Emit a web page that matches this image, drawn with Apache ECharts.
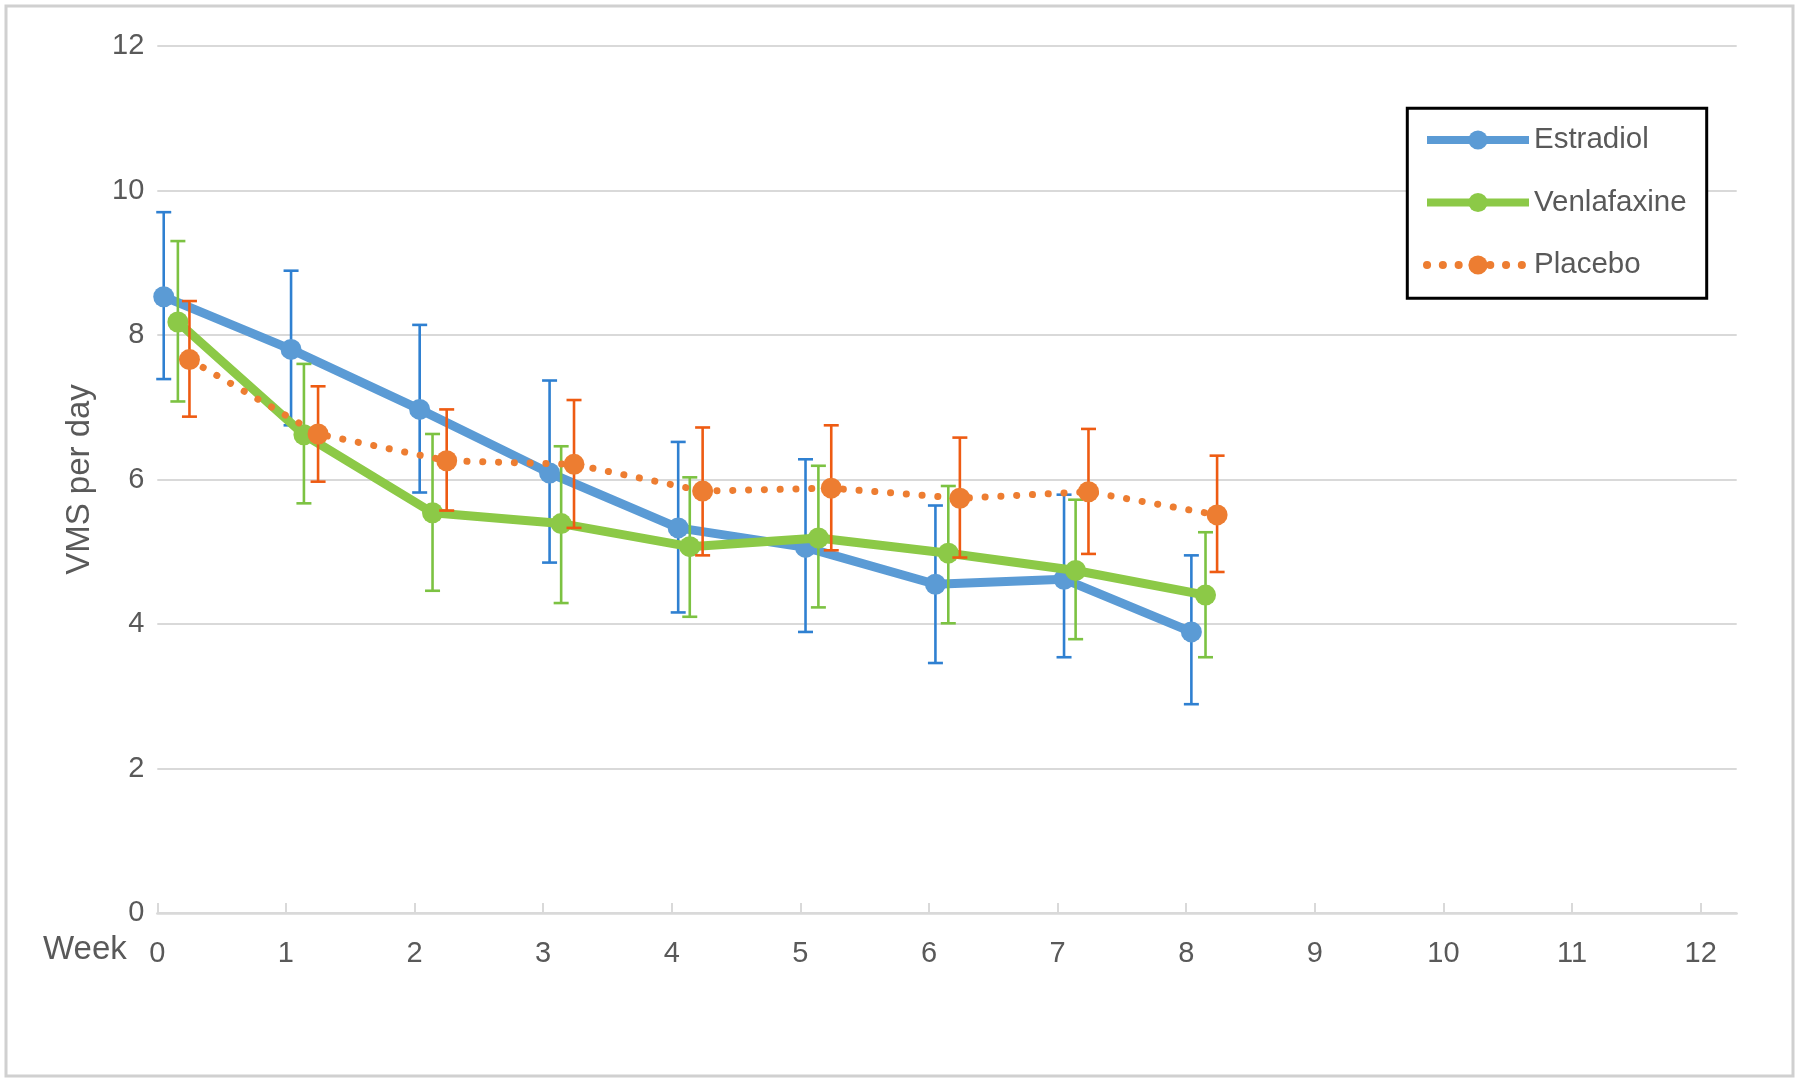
<!DOCTYPE html>
<html>
<head>
<meta charset="utf-8">
<script src="https://cdn.jsdelivr.net/npm/echarts@6/dist/echarts.min.js"></script>
<style>
html,body{margin:0;padding:0;background:#fff;}
#chart{width:1800px;height:1085px;}
</style>
</head>
<body>
<div id="chart"></div>
<script>
// ---- data ----
const xTickLabels = [0,1,2,3,4,5,6,7,8,9,10,11,12];
const yTickValues = [0,2,4,6,8,10,12];

const estradiolX    = [0.05, 1.04, 2.04, 3.05, 4.05, 5.04, 6.05, 7.05, 8.04];
const estradiolMean = [8.53, 7.80, 6.97, 6.09, 5.33, 5.06, 4.55, 4.62, 3.89];
const estradiolLow  = [7.39, 6.75, 5.82, 4.85, 4.16, 3.89, 3.46, 3.54, 2.89];
const estradiolHigh = [9.70, 8.89, 8.14, 7.37, 6.52, 6.28, 5.64, 5.79, 4.95];

const venlafaxineX    = [0.16, 1.14, 2.14, 3.14, 4.14, 5.14, 6.15, 7.14, 8.15];
const venlafaxineMean = [8.18, 6.62, 5.54, 5.39, 5.07, 5.19, 4.98, 4.74, 4.40];
const venlafaxineLow  = [7.08, 5.67, 4.46, 4.29, 4.10, 4.23, 4.01, 3.79, 3.54];
const venlafaxineHigh = [9.30, 7.60, 6.63, 6.46, 6.03, 6.19, 5.91, 5.72, 5.27];

const placeboX    = [0.25, 1.25, 2.25, 3.24, 4.24, 5.24, 6.24, 7.24, 8.24];
const placeboMean = [7.66, 6.63, 6.26, 6.21, 5.84, 5.88, 5.74, 5.83, 5.51];
const placeboLow  = [6.87, 5.97, 5.57, 5.33, 4.95, 5.02, 4.92, 4.97, 4.72];
const placeboHigh = [8.47, 7.29, 6.97, 7.10, 6.72, 6.75, 6.58, 6.70, 6.33];

const seriesNames = ['Estradiol', 'Venlafaxine', 'Placebo'];
// --------------------------------------

const FONT = 'Liberation Sans';
const TXT = '#595959';
const GRID = '#d9d9d9';

function errSeries(name, xs, lo, hi, color, z) {
  return {
    type: 'custom', name: name + ' error', z: z, silent: true,
    data: xs.map((x, i) => [x, lo[i], hi[i]]),
    encode: { x: 0, y: [1, 2] },
    renderItem: function (params, api) {
      const x = api.value(0);
      const pLo = api.coord([x, api.value(1)]);
      const pHi = api.coord([x, api.value(2)]);
      const hw = 7.5;
      const style = { stroke: color, lineWidth: 2.6 };
      return { type: 'group', children: [
        { type: 'line', shape: { x1: pLo[0], y1: pLo[1], x2: pHi[0], y2: pHi[1] }, style: style },
        { type: 'line', shape: { x1: pHi[0] - hw, y1: pHi[1], x2: pHi[0] + hw, y2: pHi[1] }, style: style },
        { type: 'line', shape: { x1: pLo[0] - hw, y1: pLo[1], x2: pLo[0] + hw, y2: pLo[1] }, style: style }
      ]};
    }
  };
}

function lineSeries(name, xs, ys, color, z, lineStyle) {
  return {
    type: 'line', name: name, z: z,
    data: xs.map((x, i) => [x, ys[i]]),
    symbol: 'circle', symbolSize: 21, showSymbol: true,
    itemStyle: { color: color },
    lineStyle: Object.assign({ color: color, width: 9, join: 'round' }, lineStyle || {}),
    emphasis: { disabled: true }
  };
}

const chart = echarts.init(document.getElementById('chart'), null, { renderer: 'canvas' });
chart.setOption({
  animation: false,
  backgroundColor: '#ffffff',
  textStyle: { fontFamily: FONT },
  grid: { left: 157.3, right: 63.3, top: 46, bottom: 172, containLabel: false },
  xAxis: {
    type: 'value', min: 0, max: 12.28, interval: 1,
    axisLine: { show: true, lineStyle: { color: GRID, width: 2.5 } },
    axisTick: { show: true, inside: true, length: 10, lineStyle: { color: GRID, width: 2 }, customValues: xTickLabels },
    axisLabel: {
      customValues: xTickLabels, margin: 26,
      color: TXT, fontSize: 29, fontFamily: FONT,
      formatter: function (v) { return Number.isInteger(v) ? String(v) : ''; }
    },
    splitLine: { show: false }
  },
  yAxis: {
    type: 'value', min: 0, max: 12, interval: 2,
    name: 'VMS per day', nameLocation: 'middle', nameGap: 61,
    nameTextStyle: { color: TXT, fontSize: 33, fontFamily: FONT },
    axisLine: { show: false }, axisTick: { show: false },
    axisLabel: { margin: 13, color: TXT, fontSize: 29, fontFamily: FONT },
    splitLine: { show: true, lineStyle: { color: GRID, width: 2 } }
  },
  legend: {
    data: seriesNames,
    orient: 'vertical', left: 1423, top: 123, padding: 0,
    itemWidth: 102, itemHeight: 24, itemGap: 28.5,
    z: 10,
    lineStyle: { width: 8 },
    textStyle: { color: TXT, fontSize: 29.5, fontFamily: FONT, lineHeight: 34 },
    selectedMode: false
  },
  graphic: [
    { type: 'rect', z: -10, silent: true,
      shape: { x: 6, y: 6, width: 1787, height: 1070 },
      style: { fill: 'none', stroke: '#d0d0d0', lineWidth: 3 } },
    { type: 'rect', z: 9, silent: true,
      shape: { x: 1407.3, y: 108.3, width: 299.4, height: 190 },
      style: { fill: '#ffffff', stroke: '#000000', lineWidth: 3 } },
    { type: 'text', z: 9, silent: true, left: 43, top: 933,
      style: { text: 'Week', fill: TXT, fontSize: 33, fontFamily: FONT } }
  ],
  series: [
    errSeries('Estradiol', estradiolX, estradiolLow, estradiolHigh, '#2F80D1', 2),
    lineSeries('Estradiol', estradiolX, estradiolMean, '#5B9BD5', 3),
    errSeries('Venlafaxine', venlafaxineX, venlafaxineLow, venlafaxineHigh, '#7CC242', 4),
    lineSeries('Venlafaxine', venlafaxineX, venlafaxineMean, '#8CC947', 5),
    errSeries('Placebo', placeboX, placeboLow, placeboHigh, '#EE5B12', 6),
    lineSeries('Placebo', placeboX, placeboMean, '#ED7D31', 7, { type: [0.1, 15.7], cap: 'round', width: 7 })
  ]
});
</script>
</body>
</html>
